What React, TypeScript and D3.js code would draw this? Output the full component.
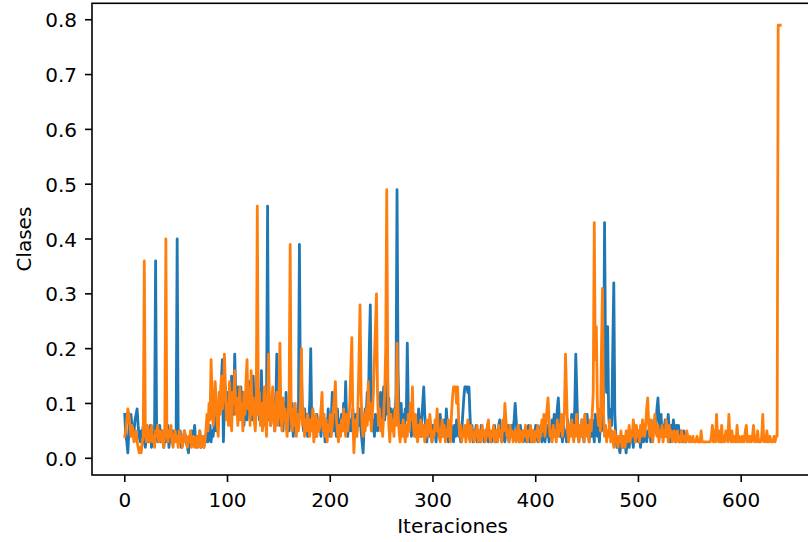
import React from "react";
import * as d3 from "d3";

// Orange series (indices 0..638)
const orangeValues: number[] = [
  0.04,0.05,0.07,0.09,0.08,0.06,0.04,0.06,0.05,0.03,
  0.04,0.05,0.03,0.02,0.01,0.02,0.01,0.03,0.04,0.36,
  0.05,0.03,0.06,0.04,0.03,0.05,0.06,0.03,0.04,0.02,
  0.05,0.04,0.06,0.03,0.05,0.04,0.03,0.05,0.02,0.06,
  0.40,0.04,0.03,0.05,0.04,0.06,0.03,0.02,0.04,0.05,
  0.03,0.04,0.02,0.05,0.03,0.04,0.02,0.03,0.05,0.04,
  0.03,0.02,0.04,0.03,0.05,0.02,0.03,0.04,0.02,0.03,
  0.04,0.02,0.03,0.05,0.02,0.03,0.04,0.02,0.03,0.05,
  0.08,0.05,0.10,0.07,0.18,0.12,0.06,0.09,0.14,0.10,
  0.06,0.04,0.12,0.08,0.15,0.09,0.11,0.19,0.13,0.07,
  0.10,0.06,0.14,0.09,0.05,0.12,0.10,0.16,0.08,0.11,
  0.06,0.09,0.13,0.07,0.10,0.05,0.12,0.08,0.14,0.18,
  0.09,0.13,0.06,0.16,0.08,0.11,0.07,0.05,0.10,0.46,
  0.08,0.12,0.06,0.10,0.05,0.09,0.13,0.07,0.04,0.11,
  0.19,0.08,0.06,0.10,0.13,0.07,0.05,0.09,0.12,0.06,
  0.10,0.21,0.08,0.05,0.11,0.07,0.09,0.06,0.04,0.08,
  0.12,0.39,0.07,0.05,0.09,0.06,0.10,0.04,0.08,0.05,
  0.07,0.10,0.20,0.06,0.09,0.04,0.07,0.05,0.08,0.06,
  0.04,0.07,0.05,0.09,0.03,0.06,0.08,0.04,0.07,0.05,
  0.06,0.09,0.12,0.05,0.08,0.04,0.07,0.03,0.06,0.05,
  0.08,0.04,0.06,0.09,0.11,0.14,0.07,0.05,0.03,0.06,
  0.04,0.07,0.05,0.09,0.06,0.04,0.08,0.05,0.07,0.10,
  0.16,0.22,0.08,0.01,0.05,0.07,0.04,0.10,0.18,0.28,
  0.12,0.06,0.04,0.08,0.05,0.09,0.06,0.14,0.07,0.10,
  0.05,0.08,0.12,0.18,0.24,0.30,0.12,0.06,0.09,0.05,
  0.07,0.04,0.08,0.12,0.20,0.49,0.15,0.06,0.03,0.08,
  0.05,0.07,0.04,0.09,0.06,0.21,0.08,0.05,0.03,0.06,
  0.04,0.07,0.05,0.03,0.06,0.04,0.08,0.05,0.10,0.07,
  0.13,0.06,0.04,0.08,0.05,0.03,0.06,0.04,0.07,0.05,
  0.04,0.06,0.03,0.05,0.07,0.04,0.06,0.08,0.05,0.03,
  0.05,0.04,0.07,0.05,0.09,0.06,0.04,0.03,0.05,0.07,
  0.04,0.06,0.03,0.05,0.04,0.07,0.05,0.03,0.08,0.11,
  0.13,0.13,0.13,0.10,0.13,0.07,0.04,0.06,0.03,0.05,
  0.04,0.06,0.03,0.05,0.07,0.04,0.03,0.06,0.05,0.04,
  0.03,0.05,0.04,0.06,0.03,0.05,0.04,0.03,0.06,0.04,
  0.05,0.03,0.04,0.06,0.07,0.04,0.03,0.05,0.04,0.06,
  0.03,0.05,0.04,0.03,0.06,0.04,0.05,0.03,0.07,0.05,
  0.10,0.07,0.04,0.05,0.03,0.06,0.04,0.05,0.03,0.04,
  0.05,0.03,0.04,0.06,0.03,0.05,0.04,0.03,0.05,0.04,
  0.06,0.04,0.03,0.05,0.04,0.06,0.03,0.05,0.04,0.03,
  0.05,0.04,0.06,0.03,0.05,0.04,0.07,0.05,0.08,0.04,
  0.06,0.09,0.11,0.07,0.04,0.05,0.03,0.06,0.04,0.05,
  0.03,0.07,0.04,0.06,0.05,0.08,0.04,0.06,0.09,0.19,
  0.12,0.05,0.03,0.06,0.04,0.07,0.05,0.03,0.06,0.04,
  0.08,0.05,0.03,0.06,0.04,0.07,0.05,0.03,0.08,0.05,
  0.04,0.06,0.03,0.07,0.05,0.08,0.12,0.43,0.18,0.24,
  0.10,0.06,0.09,0.05,0.20,0.31,0.08,0.04,0.06,0.03,
  0.05,0.04,0.07,0.03,0.05,0.04,0.02,0.05,0.03,0.04,
  0.02,0.04,0.03,0.05,0.02,0.03,0.04,0.02,0.05,0.03,
  0.04,0.06,0.03,0.05,0.04,0.07,0.05,0.03,0.06,0.04,
  0.05,0.03,0.06,0.04,0.07,0.05,0.04,0.06,0.09,0.11,
  0.06,0.04,0.07,0.05,0.03,0.06,0.08,0.05,0.04,0.06,
  0.03,0.05,0.04,0.06,0.03,0.05,0.04,0.07,0.05,0.03,
  0.06,0.04,0.05,0.03,0.04,0.05,0.03,0.04,0.05,0.03,
  0.04,0.03,0.05,0.04,0.03,0.04,0.03,0.05,0.04,0.03,
  0.04,0.03,0.03,0.04,0.03,0.03,0.03,0.04,0.03,0.03,
  0.03,0.05,0.03,0.03,0.03,0.03,0.03,0.03,0.03,0.03,
  0.03,0.04,0.06,0.03,0.05,0.03,0.08,0.04,0.03,0.05,
  0.03,0.06,0.03,0.04,0.03,0.05,0.04,0.03,0.08,0.04,
  0.03,0.05,0.03,0.04,0.03,0.03,0.06,0.03,0.04,0.03,
  0.03,0.04,0.03,0.03,0.05,0.06,0.03,0.04,0.03,0.04,
  0.03,0.04,0.06,0.03,0.04,0.03,0.05,0.03,0.03,0.03,
  0.04,0.08,0.03,0.04,0.03,0.05,0.03,0.03,0.04,0.03,
  0.03,0.03,0.04,0.03,0.04,0.04,0.79,0.79,0.79,
];

// Blue series (indices 0..546)
const blueValues: number[] = [
  0.08,0.04,0.03,0.01,0.05,0.07,0.08,0.06,0.04,0.05,
  0.07,0.08,0.09,0.06,0.04,0.03,0.05,0.04,0.06,0.03,
  0.02,0.04,0.05,0.03,0.04,0.06,0.02,0.03,0.04,0.05,
  0.36,0.05,0.03,0.04,0.06,0.03,0.05,0.04,0.02,0.05,
  0.03,0.04,0.06,0.02,0.05,0.03,0.04,0.05,0.03,0.04,
  0.05,0.40,0.04,0.03,0.05,0.02,0.04,0.03,0.05,0.04,
  0.03,0.02,0.01,0.04,0.03,0.05,0.03,0.04,0.06,0.03,
  0.02,0.04,0.03,0.05,0.02,0.04,0.03,0.02,0.04,0.03,
  0.05,0.03,0.04,0.06,0.03,0.05,0.04,0.06,0.09,0.05,
  0.08,0.06,0.12,0.09,0.14,0.18,0.03,0.10,0.13,0.08,
  0.12,0.07,0.10,0.09,0.15,0.11,0.08,0.19,0.12,0.09,
  0.13,0.07,0.10,0.13,0.08,0.12,0.06,0.09,0.11,0.07,
  0.10,0.14,0.08,0.12,0.07,0.15,0.09,0.06,0.11,0.08,
  0.12,0.07,0.10,0.16,0.09,0.06,0.11,0.08,0.10,0.46,
  0.07,0.11,0.06,0.09,0.12,0.08,0.05,0.10,0.19,0.07,
  0.09,0.06,0.11,0.08,0.05,0.10,0.07,0.12,0.06,0.09,
  0.05,0.08,0.06,0.10,0.04,0.07,0.09,0.05,0.08,0.06,
  0.39,0.10,0.15,0.07,0.05,0.09,0.06,0.08,0.04,0.07,
  0.10,0.20,0.06,0.09,0.05,0.07,0.04,0.08,0.06,0.05,
  0.07,0.04,0.08,0.05,0.06,0.03,0.07,0.05,0.09,0.06,
  0.04,0.07,0.12,0.05,0.08,0.06,0.04,0.09,0.05,0.07,
  0.06,0.08,0.05,0.10,0.07,0.14,0.06,0.04,0.08,0.05,
  0.07,0.05,0.09,0.06,0.04,0.08,0.05,0.07,0.06,0.09,
  0.05,0.03,0.01,0.06,0.09,0.08,0.12,0.07,0.20,0.28,
  0.10,0.05,0.07,0.04,0.08,0.06,0.05,0.09,0.07,0.12,
  0.06,0.09,0.13,0.07,0.10,0.14,0.08,0.11,0.06,0.09,
  0.07,0.05,0.09,0.06,0.12,0.49,0.16,0.08,0.05,0.10,
  0.06,0.08,0.05,0.09,0.07,0.21,0.09,0.05,0.07,0.04,
  0.06,0.08,0.05,0.04,0.07,0.05,0.09,0.06,0.04,0.07,
  0.10,0.13,0.08,0.05,0.03,0.06,0.04,0.07,0.05,0.03,
  0.06,0.04,0.05,0.03,0.07,0.05,0.04,0.08,0.06,0.04,
  0.05,0.07,0.04,0.09,0.06,0.03,0.05,0.04,0.06,0.05,
  0.03,0.06,0.04,0.07,0.05,0.04,0.06,0.03,0.05,0.08,
  0.11,0.13,0.13,0.13,0.12,0.13,0.08,0.04,0.06,0.03,
  0.05,0.04,0.06,0.03,0.05,0.04,0.03,0.06,0.04,0.05,
  0.03,0.05,0.04,0.06,0.03,0.05,0.04,0.03,0.05,0.04,
  0.06,0.03,0.05,0.04,0.06,0.07,0.04,0.03,0.05,0.04,
  0.03,0.05,0.04,0.06,0.03,0.05,0.04,0.06,0.05,0.07,
  0.10,0.07,0.04,0.05,0.03,0.06,0.04,0.05,0.03,0.04,
  0.05,0.03,0.04,0.06,0.03,0.05,0.04,0.03,0.05,0.04,
  0.06,0.04,0.03,0.05,0.04,0.06,0.03,0.05,0.04,0.03,
  0.05,0.04,0.06,0.03,0.05,0.04,0.07,0.05,0.08,0.04,
  0.06,0.09,0.11,0.07,0.04,0.05,0.03,0.06,0.04,0.05,
  0.03,0.07,0.04,0.06,0.05,0.08,0.04,0.06,0.09,0.19,
  0.12,0.05,0.03,0.06,0.04,0.07,0.05,0.03,0.08,0.05,
  0.08,0.05,0.03,0.06,0.04,0.07,0.05,0.03,0.08,0.05,
  0.04,0.06,0.03,0.07,0.05,0.08,0.10,0.43,0.18,0.12,
  0.24,0.08,0.05,0.09,0.06,0.20,0.32,0.08,0.04,0.02,
  0.03,0.02,0.01,0.03,0.02,0.04,0.02,0.03,0.01,0.03,
  0.04,0.02,0.05,0.03,0.04,0.02,0.06,0.03,0.04,0.05,
  0.03,0.05,0.02,0.04,0.06,0.03,0.05,0.04,0.03,0.05,
  0.04,0.06,0.03,0.05,0.04,0.07,0.05,0.06,0.09,0.11,
  0.07,0.05,0.08,0.04,0.06,0.05,0.07,0.04,0.06,0.08,
  0.05,0.03,0.06,0.04,0.07,0.05,0.03,0.06,0.04,0.06,
  0.03,0.05,0.04,0.03,0.05,0.04,0.03,
];

const xTicks: number[] = [0, 100, 200, 300, 400, 500, 600];
const yTicks: number[] = [0.0, 0.1, 0.2, 0.3, 0.4, 0.5, 0.6, 0.7, 0.8];
const xLabel = "Iteraciones";
const yLabel = "Clases";

const W = 808;
const H = 542;
const left = 92;
const right = 813;
const top = 3.3;
const bottom = 475;
const FONT = "'DejaVu Sans', sans-serif";

export default function App() {
  const n = orangeValues.length;
  const xMargin = (n - 1) * 0.05;
  const x = d3.scaleLinear().domain([-xMargin, n - 1 + xMargin]).range([left, right]);
  const y = d3.scaleLinear().domain([-0.0305, 0.830]).range([bottom, top]);

  const line = d3
    .line<number>()
    .x((_, i) => x(i))
    .y((d) => y(d));

  return (
    <svg
      width={W}
      height={H}
      style={{ position: "absolute", left: 0, top: 0, background: "#fff" }}
      fontFamily={FONT}
    >
      <defs>
        <clipPath id="plotclip">
          <rect x={left} y={top} width={right - left} height={bottom - top} />
        </clipPath>
      </defs>
      <g clipPath="url(#plotclip)">
        <path
          d={line(blueValues) || ""}
          fill="none"
          stroke="#1f77b4"
          strokeWidth={2.8}
          strokeLinejoin="round"
          strokeLinecap="square"
        />
        <path
          d={line(orangeValues) || ""}
          fill="none"
          stroke="#ff7f0e"
          strokeWidth={2.8}
          strokeLinejoin="round"
          strokeLinecap="square"
        />
      </g>
      {/* spines */}
      <rect
        x={left}
        y={top}
        width={right - left}
        height={bottom - top}
        fill="none"
        stroke="#000"
        strokeWidth={1.6}
      />
      {/* x ticks */}
      {xTicks.map((t) => (
        <g key={"x" + t}>
          <line x1={x(t)} x2={x(t)} y1={bottom} y2={bottom + 7} stroke="#000" strokeWidth={1.6} />
          <text x={x(t)} y={506.5} fontSize={20} textAnchor="middle" fill="#000">
            {String(t)}
          </text>
        </g>
      ))}
      {/* y ticks */}
      {yTicks.map((t) => (
        <g key={"y" + t}>
          <line x1={left - 7} x2={left} y1={y(t)} y2={y(t)} stroke="#000" strokeWidth={1.6} />
          <text x={left - 15} y={y(t) + 7.5} fontSize={20} textAnchor="end" fill="#000">
            {t.toFixed(1)}
          </text>
        </g>
      ))}
      <text x={(left + right) / 2} y={533} fontSize={20} textAnchor="middle" fill="#000">
        {xLabel}
      </text>
      <text
        transform={`translate(31, ${(top + bottom) / 2}) rotate(-90)`}
        fontSize={20}
        textAnchor="middle"
        fill="#000"
      >
        {yLabel}
      </text>
    </svg>
  );
}
